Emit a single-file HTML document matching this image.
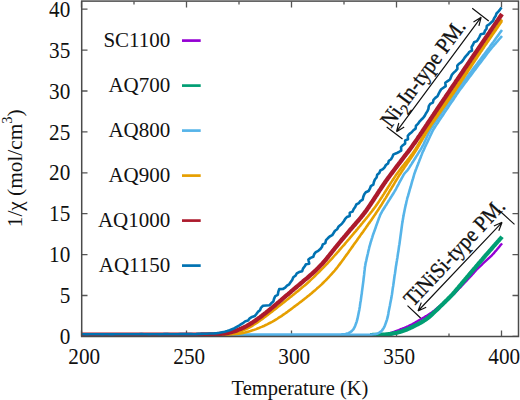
<!DOCTYPE html>
<html><head><meta charset="utf-8"><style>
html,body{margin:0;padding:0;background:#fff;width:520px;height:400px;overflow:hidden}
svg{display:block}
</style></head><body>
<svg width="520" height="400" viewBox="0 0 520 400"><rect width="520" height="400" fill="#fff"/><path d="M81.5,336.4v-6 M81.5,1.5v6 M186.5,336.4v-6 M186.5,1.5v6 M291.5,336.4v-6 M291.5,1.5v6 M396.5,336.4v-6 M396.5,1.5v6 M501.5,336.4v-6 M501.5,1.5v6 M81.5,336.4h6 M518.5,336.4h-6 M81.5,295.5h6 M518.5,295.5h-6 M81.5,254.6h6 M518.5,254.6h-6 M81.5,213.7h6 M518.5,213.7h-6 M81.5,172.8h6 M518.5,172.8h-6 M81.5,131.9h6 M518.5,131.9h-6 M81.5,91.0h6 M518.5,91.0h-6 M81.5,50.1h6 M518.5,50.1h-6 M81.5,9.2h6 M518.5,9.2h-6 M134.0,336.4v-3 M134.0,1.5v3 M239.0,336.4v-3 M239.0,1.5v3 M344.0,336.4v-3 M344.0,1.5v3 M449.0,336.4v-3 M449.0,1.5v3" stroke="#555" stroke-width="1.3" fill="none"/><path d="M374.0,335.2 L375.5,335.2 L377.0,335.1 L378.5,335.1 L380.0,335.0 L381.5,334.9 L383.0,334.7 L384.5,334.5 L385.9,334.3 L387.4,333.9 L388.8,333.6 L390.3,333.2 L391.7,332.7 L393.1,332.2 L394.5,331.7 L395.9,331.1 L397.3,330.6 L398.7,330.1 L400.1,329.5 L401.5,329.0 L402.9,328.4 L404.3,327.9 L405.7,327.3 L407.1,326.7 L408.5,326.1 L409.8,325.4 L411.1,324.7 L412.5,324.0 L413.8,323.3 L415.1,322.6 L416.4,321.8 L417.7,321.1 L419.0,320.3 L420.3,319.5 L421.6,318.8 L422.9,318.0 L424.2,317.2 L425.4,316.4 L426.7,315.7 L428.0,314.9 L429.3,314.1 L430.5,313.2 L431.8,312.4 L433.0,311.5 L434.2,310.6 L435.3,309.7 L436.5,308.7 L437.7,307.8 L438.8,306.8 L440.0,305.9 L441.2,304.9 L442.3,303.9 L443.5,303.0 L444.6,302.0 L445.8,301.1 L446.9,300.1 L448.1,299.1 L449.2,298.2 L450.4,297.2 L451.5,296.2 L452.6,295.2 L453.7,294.1 L454.7,293.1 L455.8,292.0 L456.8,290.9 L457.9,289.8 L458.9,288.7 L460.0,287.7 L461.0,286.6 L462.0,285.5 L463.1,284.4 L464.1,283.3 L465.1,282.2 L466.2,281.1 L467.2,280.0 L468.2,278.9 L469.2,277.8 L470.3,276.7 L471.3,275.6 L472.3,274.5 L473.3,273.4 L474.3,272.2 L475.3,271.1 L476.3,270.0 L477.4,268.9 L478.4,267.9 L479.5,266.8 L480.6,265.8 L481.7,264.8 L482.8,263.7 L483.9,262.7 L485.0,261.7 L486.1,260.7 L487.2,259.7 L488.3,258.7 L489.4,257.7 L490.5,256.6 L491.6,255.6 L492.6,254.5 L493.7,253.4 L494.6,252.3 L495.6,251.1 L496.6,250.0 L497.6,248.8 L498.5,247.7 L499.5,246.5 L500.4,245.3 L501.4,244.2 L502.0,243.4" fill="none" stroke="#9400D3" stroke-width="2.4" stroke-linejoin="round" stroke-linecap="butt"/><path d="M370.0,335.0 L371.5,335.0 L373.0,334.9 L374.5,334.9 L376.0,334.9 L377.5,334.8 L379.0,334.8 L380.5,334.7 L382.0,334.7 L383.5,334.6 L385.0,334.5 L386.5,334.3 L388.0,334.2 L389.5,334.0 L391.0,333.8 L392.4,333.6 L393.9,333.3 L395.4,333.0 L396.9,332.7 L398.3,332.3 L399.8,332.0 L401.2,331.6 L402.6,331.1 L404.0,330.6 L405.4,330.1 L406.8,329.5 L408.2,328.9 L409.6,328.3 L410.9,327.7 L412.3,327.0 L413.6,326.4 L415.0,325.7 L416.3,325.0 L417.6,324.3 L418.9,323.6 L420.3,322.9 L421.6,322.1 L422.9,321.4 L424.1,320.6 L425.4,319.7 L426.6,318.9 L427.8,318.0 L429.0,317.1 L430.1,316.1 L431.2,315.1 L432.4,314.1 L433.4,313.1 L434.5,312.0 L435.6,311.0 L436.7,310.0 L437.8,308.9 L438.9,307.9 L439.9,306.8 L441.0,305.8 L442.1,304.7 L443.2,303.7 L444.2,302.6 L445.3,301.6 L446.4,300.5 L447.5,299.5 L448.5,298.4 L449.6,297.4 L450.6,296.3 L451.7,295.2 L452.7,294.1 L453.7,293.0 L454.7,291.9 L455.7,290.7 L456.6,289.6 L457.6,288.4 L458.6,287.3 L459.5,286.1 L460.5,285.0 L461.5,283.8 L462.4,282.7 L463.4,281.5 L464.4,280.4 L465.3,279.2 L466.3,278.1 L467.2,276.9 L468.2,275.8 L469.2,274.6 L470.2,273.5 L471.1,272.3 L472.1,271.2 L473.1,270.0 L474.0,268.9 L475.0,267.8 L476.0,266.6 L477.0,265.5 L478.0,264.3 L478.9,263.2 L479.9,262.1 L480.9,260.9 L481.9,259.8 L482.9,258.6 L483.8,257.5 L484.8,256.4 L485.8,255.2 L486.8,254.1 L487.8,253.0 L488.8,251.8 L489.8,250.7 L490.8,249.6 L491.8,248.5 L492.7,247.3 L493.7,246.2 L494.7,245.1 L495.7,243.9 L496.7,242.8 L497.7,241.7 L498.7,240.6 L499.7,239.4 L500.7,238.3 L501.7,237.2 L502.0,236.8" fill="none" stroke="#009E73" stroke-width="4.2" stroke-linejoin="round" stroke-linecap="butt"/><path d="M81.5,334.8 L83.0,334.8 L84.5,334.8 L86.0,334.8 L87.5,334.8 L89.0,334.8 L90.5,334.8 L92.0,334.8 L93.5,334.8 L95.0,334.8 L96.5,334.8 L98.0,334.8 L99.5,334.8 L101.0,334.8 L102.5,334.8 L104.0,334.8 L105.5,334.8 L107.0,334.8 L108.5,334.8 L110.0,334.8 L111.5,334.8 L113.0,334.8 L114.5,334.8 L116.0,334.8 L117.5,334.8 L119.0,334.8 L120.5,334.8 L122.0,334.8 L123.5,334.8 L125.0,334.8 L126.5,334.8 L128.0,334.8 L129.5,334.8 L131.0,334.8 L132.5,334.8 L134.0,334.8 L135.5,334.8 L137.0,334.8 L138.5,334.8 L140.0,334.8 L141.5,334.8 L143.0,334.8 L144.5,334.8 L146.0,334.8 L147.5,334.8 L149.0,334.8 L150.5,334.8 L152.0,334.8 L153.5,334.8 L155.0,334.8 L156.5,334.8 L158.0,334.8 L159.5,334.8 L161.0,334.8 L162.5,334.8 L164.0,334.8 L165.5,334.8 L167.0,334.8 L168.5,334.8 L170.0,334.8 L171.5,334.8 L173.0,334.8 L174.6,334.8 L176.1,334.8 L177.6,334.8 L179.1,334.8 L180.6,334.8 L182.1,334.8 L183.6,334.8 L185.1,334.8 L186.6,334.8 L188.1,334.8 L189.6,334.8 L191.1,334.8 L192.6,334.8 L194.1,334.8 L195.6,334.8 L197.1,334.8 L198.6,334.8 L200.1,334.8 L201.6,334.8 L203.1,334.8 L204.6,334.8 L206.1,334.8 L207.6,334.8 L209.1,334.8 L210.6,334.8 L212.1,334.8 L213.6,334.8 L215.1,334.8 L216.6,334.8 L218.1,334.8 L219.6,334.8 L221.1,334.8 L222.6,334.8 L224.1,334.8 L225.6,334.8 L227.1,334.8 L228.6,334.8 L230.1,334.8 L231.6,334.8 L233.1,334.8 L234.6,334.8 L236.1,334.8 L237.6,334.8 L239.1,334.8 L240.6,334.8 L242.1,334.8 L243.6,334.8 L245.1,334.8 L246.6,334.8 L248.1,334.8 L249.6,334.8 L251.1,334.8 L252.6,334.8 L254.1,334.8 L255.6,334.8 L257.1,334.8 L258.6,334.8 L260.1,334.8 L261.6,334.8 L263.1,334.8 L264.6,334.8 L266.1,334.8 L267.6,334.8 L269.1,334.8 L270.6,334.8 L272.1,334.8 L273.6,334.8 L275.1,334.8 L276.6,334.8 L278.1,334.8 L279.6,334.8 L281.1,334.8 L282.6,334.8 L284.1,334.8 L285.6,334.8 L287.1,334.8 L288.6,334.8 L290.1,334.8 L291.6,334.8 L293.1,334.8 L294.6,334.8 L296.1,334.8 L297.6,334.8 L299.1,334.8 L300.6,334.8 L302.1,334.8 L303.6,334.8 L305.1,334.8 L306.6,334.8 L308.1,334.8 L309.6,334.8 L311.1,334.8 L312.6,334.8 L314.1,334.8 L315.6,334.8 L317.1,334.8 L318.6,334.8 L320.1,334.8 L321.6,334.8 L323.1,334.8 L324.6,334.8 L326.1,334.8 L327.6,334.8 L329.1,334.8 L330.6,334.8 L332.1,334.8 L333.6,334.8 L335.1,334.8 L336.6,334.8 L338.1,334.8 L339.6,334.8 L341.1,334.8 L342.6,334.8 L344.1,334.8 L345.6,334.8 L347.1,334.8 L348.6,334.8 L350.1,334.8 L351.6,334.8 L353.1,334.8 L354.6,334.8 L356.1,334.8 L357.6,334.8 L359.1,334.8 L360.7,334.8 L362.2,334.8 L363.7,334.8 L365.2,334.8 L366.7,334.8 L368.2,334.7 L369.7,334.7 L371.1,334.6 L372.6,334.5 L374.1,334.3 L375.6,334.1 L377.0,333.7 L378.4,333.1 L379.7,332.4 L380.8,331.6 L381.9,330.6 L382.8,329.4 L383.6,328.2 L384.3,326.9 L384.9,325.5 L385.4,324.1 L385.9,322.7 L386.4,321.3 L386.9,319.8 L387.3,318.4 L387.7,316.9 L388.0,315.5 L388.3,314.0 L388.5,312.5 L388.8,311.1 L389.1,309.6 L389.4,308.1 L389.7,306.6 L390.0,305.2 L390.2,303.7 L390.5,302.2 L390.8,300.7 L391.1,299.3 L391.4,297.8 L391.6,296.3 L391.9,294.8 L392.1,293.4 L392.3,291.9 L392.5,290.4 L392.7,288.9 L392.9,287.4 L393.2,285.9 L393.4,284.4 L393.6,283.0 L393.8,281.5 L394.0,280.0 L394.2,278.5 L394.4,277.0 L394.6,275.5 L394.9,274.0 L395.1,272.6 L395.3,271.1 L395.5,269.6 L395.7,268.1 L395.9,266.6 L396.2,265.1 L396.4,263.6 L396.6,262.2 L396.9,260.7 L397.1,259.2 L397.4,257.7 L397.6,256.2 L397.8,254.8 L398.0,253.3 L398.3,251.8 L398.5,250.3 L398.7,248.8 L398.9,247.3 L399.1,245.8 L399.4,244.4 L399.6,242.9 L399.8,241.4 L400.0,239.9 L400.2,238.4 L400.4,236.9 L400.6,235.4 L400.8,234.0 L401.0,232.5 L401.2,231.0 L401.4,229.5 L401.6,228.0 L401.8,226.5 L402.0,225.0 L402.2,223.6 L402.5,222.1 L402.7,220.6 L403.0,219.1 L403.2,217.6 L403.5,216.1 L403.7,214.7 L404.0,213.2 L404.3,211.7 L404.6,210.3 L404.9,208.8 L405.2,207.3 L405.5,205.9 L405.9,204.4 L406.2,202.9 L406.5,201.5 L406.9,200.0 L407.2,198.5 L407.6,197.1 L408.1,195.7 L408.5,194.2 L408.9,192.8 L409.3,191.3 L409.7,189.9 L410.1,188.5 L410.6,187.0 L411.0,185.6 L411.4,184.1 L411.8,182.7 L412.2,181.2 L412.6,179.8 L413.1,178.4 L413.5,176.9 L413.9,175.5 L414.3,174.0 L414.8,172.6 L415.3,171.2 L415.8,169.8 L416.4,168.4 L416.9,167.0 L417.5,165.6 L418.0,164.2 L418.5,162.8 L419.1,161.4 L419.6,160.0 L420.2,158.6 L420.7,157.2 L421.2,155.8 L421.8,154.4 L422.3,153.0 L422.9,151.6 L423.6,150.3 L424.2,148.9 L424.8,147.5 L425.4,146.2 L426.1,144.8 L426.7,143.5 L427.4,142.1 L428.0,140.7 L428.6,139.4 L429.3,138.0 L429.9,136.7 L430.5,135.3 L431.2,133.9 L431.8,132.6 L432.5,131.2 L433.2,129.9 L433.9,128.6 L434.8,127.4 L435.6,126.1 L436.4,124.9 L437.2,123.6 L438.1,122.4 L438.9,121.1 L439.7,119.9 L440.6,118.6 L441.4,117.4 L442.2,116.1 L443.1,114.9 L443.9,113.6 L444.7,112.4 L445.6,111.1 L446.4,109.9 L447.2,108.6 L448.1,107.4 L448.9,106.1 L449.7,104.9 L450.6,103.6 L451.4,102.4 L452.2,101.2 L453.1,99.9 L453.9,98.7 L454.7,97.4 L455.6,96.2 L456.4,94.9 L457.2,93.7 L458.1,92.4 L458.9,91.2 L459.8,90.0 L460.7,88.8 L461.6,87.6 L462.5,86.4 L463.4,85.2 L464.3,84.0 L465.2,82.8 L466.1,81.6 L467.0,80.4 L467.9,79.2 L468.8,78.0 L469.7,76.8 L470.6,75.6 L471.5,74.4 L472.4,73.2 L473.3,72.0 L474.2,70.8 L475.1,69.6 L476.0,68.4 L476.9,67.2 L477.8,66.0 L478.7,64.8 L479.6,63.6 L480.6,62.4 L481.5,61.2 L482.4,60.0 L483.3,58.8 L484.2,57.6 L485.1,56.4 L486.0,55.2 L486.9,54.0 L487.8,52.8 L488.7,51.6 L489.6,50.4 L490.6,49.3 L491.5,48.1 L492.5,47.0 L493.5,45.9 L494.5,44.7 L495.5,43.6 L496.4,42.4 L497.4,41.3 L498.4,40.2 L499.4,39.0 L500.4,37.9 L501.3,36.8 L502.0,36.0" fill="none" stroke="#56B4E9" stroke-width="2.6" stroke-linejoin="round" stroke-linecap="butt"/><path d="M81.5,334.8 L83.0,334.8 L84.5,334.8 L86.0,334.8 L87.5,334.8 L89.0,334.8 L90.5,334.8 L92.0,334.8 L93.5,334.8 L95.0,334.8 L96.5,334.8 L98.0,334.8 L99.5,334.8 L101.0,334.8 L102.5,334.8 L104.0,334.8 L105.5,334.8 L107.0,334.8 L108.5,334.8 L110.0,334.8 L111.5,334.8 L113.0,334.8 L114.5,334.8 L116.0,334.8 L117.5,334.8 L119.0,334.8 L120.5,334.8 L122.0,334.8 L123.5,334.8 L125.0,334.8 L126.5,334.8 L128.0,334.8 L129.5,334.8 L131.0,334.8 L132.5,334.8 L134.0,334.8 L135.5,334.8 L137.0,334.8 L138.5,334.8 L140.0,334.8 L141.5,334.8 L143.0,334.8 L144.5,334.8 L146.0,334.8 L147.5,334.8 L149.0,334.8 L150.5,334.8 L152.0,334.8 L153.5,334.8 L155.0,334.8 L156.5,334.8 L158.0,334.8 L159.5,334.8 L161.0,334.8 L162.5,334.8 L164.0,334.8 L165.6,334.8 L167.1,334.8 L168.6,334.8 L170.1,334.8 L171.6,334.8 L173.1,334.8 L174.6,334.8 L176.1,334.8 L177.6,334.8 L179.1,334.8 L180.6,334.8 L182.1,334.8 L183.6,334.8 L185.1,334.8 L186.6,334.8 L188.1,334.8 L189.6,334.8 L191.1,334.8 L192.6,334.8 L194.1,334.8 L195.6,334.8 L197.1,334.8 L198.6,334.8 L200.1,334.8 L201.6,334.8 L203.1,334.8 L204.6,334.8 L206.1,334.8 L207.6,334.8 L209.1,334.8 L210.6,334.8 L212.1,334.8 L213.6,334.8 L215.1,334.8 L216.6,334.8 L218.1,334.8 L219.6,334.8 L221.1,334.8 L222.6,334.8 L224.1,334.8 L225.6,334.8 L227.1,334.8 L228.6,334.8 L230.1,334.8 L231.6,334.8 L233.1,334.8 L234.6,334.8 L236.1,334.8 L237.6,334.8 L239.1,334.8 L240.6,334.8 L242.1,334.8 L243.6,334.8 L245.1,334.8 L246.6,334.8 L248.1,334.8 L249.6,334.8 L251.1,334.8 L252.6,334.8 L254.1,334.8 L255.6,334.8 L257.1,334.8 L258.6,334.8 L260.1,334.8 L261.6,334.8 L263.1,334.8 L264.6,334.8 L266.1,334.8 L267.6,334.8 L269.1,334.8 L270.6,334.8 L272.1,334.8 L273.6,334.8 L275.1,334.8 L276.6,334.8 L278.1,334.8 L279.6,334.8 L281.1,334.8 L282.6,334.8 L284.1,334.8 L285.6,334.8 L287.1,334.8 L288.6,334.8 L290.1,334.8 L291.6,334.8 L293.1,334.8 L294.6,334.8 L296.1,334.8 L297.6,334.8 L299.1,334.8 L300.6,334.8 L302.1,334.8 L303.6,334.8 L305.1,334.8 L306.6,334.8 L308.1,334.8 L309.6,334.8 L311.1,334.8 L312.6,334.8 L314.1,334.8 L315.6,334.8 L317.1,334.8 L318.6,334.8 L320.1,334.8 L321.6,334.8 L323.1,334.8 L324.6,334.8 L326.1,334.8 L327.6,334.8 L329.1,334.8 L330.6,334.8 L332.2,334.8 L333.7,334.8 L335.2,334.8 L336.7,334.8 L338.2,334.7 L339.7,334.7 L341.1,334.6 L342.6,334.4 L344.1,334.3 L345.6,334.0 L347.0,333.6 L348.4,333.2 L349.8,332.5 L351.0,331.7 L352.1,330.7 L353.1,329.7 L353.9,328.5 L354.6,327.2 L355.2,325.8 L355.7,324.4 L356.2,323.0 L356.7,321.6 L357.1,320.1 L357.5,318.7 L357.8,317.2 L358.1,315.7 L358.4,314.3 L358.7,312.8 L359.0,311.3 L359.3,309.9 L359.5,308.4 L359.8,306.9 L360.0,305.4 L360.2,303.9 L360.4,302.4 L360.7,301.0 L360.9,299.5 L361.1,298.0 L361.3,296.5 L361.5,295.0 L361.8,293.5 L361.9,292.0 L362.1,290.6 L362.3,289.1 L362.5,287.6 L362.7,286.1 L362.9,284.6 L363.1,283.1 L363.3,281.6 L363.5,280.1 L363.6,278.6 L363.8,277.2 L364.0,275.7 L364.2,274.2 L364.3,272.7 L364.5,271.2 L364.7,269.7 L364.8,268.2 L365.0,266.7 L365.3,265.2 L365.5,263.8 L365.8,262.3 L366.2,260.8 L366.5,259.4 L366.8,257.9 L367.2,256.4 L367.5,255.0 L367.9,253.5 L368.2,252.1 L368.5,250.6 L368.9,249.1 L369.2,247.7 L369.6,246.2 L370.0,244.8 L370.4,243.3 L370.8,241.9 L371.3,240.5 L371.7,239.0 L372.2,237.6 L372.6,236.2 L373.1,234.7 L373.6,233.3 L374.1,231.9 L374.6,230.5 L375.1,229.1 L375.6,227.7 L376.1,226.2 L376.6,224.8 L377.1,223.4 L377.6,222.0 L378.1,220.6 L378.6,219.2 L379.1,217.8 L379.7,216.4 L380.2,215.0 L380.9,213.6 L381.6,212.3 L382.3,211.0 L383.1,209.8 L383.9,208.5 L384.7,207.2 L385.5,205.9 L386.3,204.7 L387.1,203.4 L387.9,202.1 L388.7,200.8 L389.5,199.6 L390.3,198.3 L391.1,197.0 L391.9,195.8 L392.7,194.5 L393.5,193.2 L394.3,191.9 L395.0,190.7 L395.8,189.4 L396.5,188.0 L397.2,186.7 L397.9,185.4 L398.6,184.1 L399.3,182.7 L400.0,181.4 L400.7,180.1 L401.4,178.8 L402.2,177.4 L402.9,176.1 L403.6,174.8 L404.4,173.6 L405.4,172.5 L406.4,171.4 L407.4,170.3 L408.3,169.1 L409.1,167.9 L409.9,166.6 L410.7,165.3 L411.5,164.1 L412.3,162.8 L413.1,161.5 L413.9,160.3 L414.7,159.0 L415.5,157.7 L416.3,156.4 L417.1,155.2 L417.9,153.9 L418.7,152.6 L419.5,151.3 L420.3,150.1 L421.1,148.8 L421.8,147.5 L422.5,146.2 L423.2,144.9 L423.9,143.5 L424.5,142.1 L425.1,140.8 L425.7,139.4 L426.3,138.0 L427.0,136.7 L427.6,135.3 L428.2,133.9 L428.8,132.6 L429.5,131.2 L430.2,129.9 L431.0,128.6 L431.8,127.4 L432.6,126.1 L433.5,124.9 L434.3,123.6 L435.2,122.4 L436.0,121.2 L436.9,119.9 L437.7,118.7 L438.5,117.4 L439.4,116.2 L440.2,115.0 L441.1,113.7 L441.9,112.5 L442.8,111.2 L443.6,110.0 L444.4,108.7 L445.3,107.5 L446.1,106.3 L447.0,105.0 L447.8,103.8 L448.7,102.5 L449.5,101.3 L450.3,100.1 L451.2,98.8 L452.0,97.6 L452.9,96.3 L453.7,95.1 L454.6,93.8 L455.4,92.6 L456.3,91.4 L457.2,90.2 L458.0,89.0 L458.9,87.8 L459.9,86.6 L460.8,85.4 L461.7,84.2 L462.6,83.0 L463.5,81.8 L464.4,80.6 L465.3,79.4 L466.2,78.2 L467.1,77.0 L468.0,75.8 L468.9,74.6 L469.8,73.4 L470.7,72.2 L471.6,71.0 L472.5,69.8 L473.4,68.6 L474.3,67.4 L475.2,66.2 L476.1,65.0 L477.1,63.8 L478.0,62.6 L478.9,61.4 L479.8,60.2 L480.7,59.0 L481.6,57.8 L482.5,56.6 L483.4,55.4 L484.3,54.2 L485.2,53.0 L486.1,51.8 L487.0,50.6 L487.9,49.4 L488.8,48.2 L489.7,47.0 L490.5,45.8 L491.4,44.6 L492.3,43.4 L493.2,42.2 L494.1,40.9 L495.0,39.7 L495.8,38.5 L496.7,37.3 L497.6,36.1 L498.5,34.9 L499.4,33.6 L500.2,32.4 L501.1,31.2 L502.0,30.0 L502.0,30.0" fill="none" stroke="#56B4E9" stroke-width="2.6" stroke-linejoin="round" stroke-linecap="butt"/><path d="M81.5,334.9 L83.0,334.9 L84.5,334.9 L86.0,334.9 L87.5,334.9 L89.0,334.9 L90.5,334.9 L92.0,334.9 L93.5,334.9 L95.0,334.9 L96.5,334.9 L98.0,334.9 L99.5,334.9 L101.0,334.9 L102.5,334.9 L104.0,334.9 L105.5,334.9 L107.0,334.9 L108.5,334.9 L110.0,334.9 L111.5,334.9 L113.0,334.9 L114.5,334.9 L116.0,334.9 L117.5,334.9 L119.0,334.9 L120.5,334.9 L122.0,334.9 L123.5,334.9 L125.0,334.9 L126.5,334.9 L128.0,334.9 L129.5,334.9 L131.0,334.9 L132.5,334.9 L134.0,334.9 L135.5,334.9 L137.0,334.9 L138.5,334.9 L140.0,334.9 L141.5,334.9 L143.0,334.9 L144.5,334.9 L146.0,334.9 L147.5,334.9 L149.0,334.9 L150.5,334.9 L152.0,334.9 L153.5,334.9 L155.0,334.9 L156.5,334.9 L158.0,334.9 L159.5,334.9 L161.0,334.9 L162.5,334.9 L164.0,334.9 L165.5,334.9 L167.0,334.9 L168.5,334.9 L170.0,334.9 L171.5,334.9 L173.0,334.9 L174.5,334.9 L176.0,334.9 L177.5,334.9 L179.0,334.9 L180.5,334.9 L182.0,334.9 L183.5,334.9 L185.0,334.9 L186.5,334.9 L188.0,334.9 L189.5,334.9 L191.0,334.9 L192.5,334.9 L194.0,334.9 L195.5,334.9 L197.0,334.9 L198.5,334.9 L200.0,334.9 L201.5,334.9 L203.0,334.9 L204.5,334.9 L206.0,334.9 L207.5,334.9 L209.0,334.9 L210.5,334.9 L212.0,334.9 L213.5,334.9 L215.0,334.8 L216.5,334.8 L218.0,334.8 L219.5,334.8 L221.0,334.8 L222.5,334.7 L224.0,334.7 L225.5,334.7 L227.0,334.6 L228.5,334.6 L230.0,334.5 L231.5,334.4 L233.0,334.3 L234.5,334.2 L236.0,334.0 L237.5,333.9 L238.9,333.7 L240.4,333.4 L241.9,333.2 L243.3,332.9 L244.8,332.6 L246.2,332.2 L247.7,331.8 L249.1,331.4 L250.5,331.0 L251.9,330.5 L253.4,330.1 L254.8,329.6 L256.2,329.1 L257.6,328.5 L259.0,328.0 L260.3,327.4 L261.7,326.9 L263.1,326.3 L264.5,325.7 L265.8,325.0 L267.2,324.4 L268.5,323.7 L269.8,323.0 L271.1,322.3 L272.5,321.6 L273.8,320.9 L275.0,320.1 L276.3,319.3 L277.6,318.5 L278.8,317.7 L280.1,316.9 L281.4,316.1 L282.6,315.2 L283.8,314.4 L285.1,313.5 L286.3,312.6 L287.5,311.8 L288.7,310.9 L289.9,310.0 L291.1,309.1 L292.3,308.2 L293.5,307.3 L294.7,306.4 L295.9,305.5 L297.1,304.6 L298.3,303.7 L299.5,302.8 L300.7,301.9 L301.9,301.0 L303.1,300.0 L304.3,299.1 L305.4,298.2 L306.6,297.3 L307.8,296.3 L308.9,295.4 L310.1,294.4 L311.3,293.5 L312.4,292.5 L313.5,291.5 L314.7,290.6 L315.8,289.6 L316.9,288.6 L318.1,287.6 L319.2,286.6 L320.3,285.6 L321.4,284.6 L322.5,283.5 L323.5,282.5 L324.6,281.4 L325.7,280.4 L326.7,279.3 L327.8,278.2 L328.8,277.1 L329.8,276.0 L330.8,274.9 L331.8,273.8 L332.8,272.7 L333.8,271.6 L334.8,270.5 L335.7,269.3 L336.7,268.1 L337.6,267.0 L338.5,265.8 L339.4,264.6 L340.3,263.4 L341.2,262.2 L342.1,261.0 L343.0,259.8 L343.9,258.6 L344.8,257.3 L345.6,256.1 L346.5,254.9 L347.4,253.7 L348.3,252.5 L349.1,251.2 L350.0,250.0 L350.9,248.8 L351.7,247.6 L352.6,246.4 L353.5,245.1 L354.3,243.9 L355.2,242.7 L356.1,241.5 L357.0,240.3 L357.8,239.0 L358.7,237.8 L359.6,236.6 L360.4,235.4 L361.3,234.1 L362.2,232.9 L363.1,231.7 L363.9,230.5 L364.8,229.2 L365.7,228.0 L366.5,226.8 L367.4,225.6 L368.2,224.3 L369.1,223.1 L370.0,221.9 L370.8,220.7 L371.7,219.4 L372.5,218.2 L373.4,216.9 L374.2,215.7 L375.1,214.5 L375.9,213.2 L376.7,212.0 L377.6,210.7 L378.4,209.5 L379.2,208.2 L380.0,207.0 L380.8,205.7 L381.7,204.4 L382.4,203.2 L383.2,201.9 L384.0,200.6 L384.8,199.3 L385.6,198.1 L386.4,196.8 L387.1,195.5 L387.9,194.2 L388.7,192.9 L389.4,191.6 L390.2,190.3 L391.0,189.0 L391.7,187.8 L392.5,186.5 L393.3,185.2 L394.1,183.9 L394.8,182.6 L395.6,181.3 L396.4,180.0 L397.2,178.8 L397.9,177.5 L398.7,176.2 L399.5,174.9 L400.4,173.7 L401.2,172.4 L402.0,171.2 L402.8,169.9 L403.7,168.7 L404.5,167.4 L405.3,166.2 L406.2,165.0 L407.0,163.7 L407.9,162.5 L408.8,161.3 L409.6,160.0 L410.5,158.8 L411.3,157.6 L412.1,156.3 L413.0,155.1 L413.8,153.8 L414.6,152.6 L415.4,151.3 L416.2,150.0 L417.0,148.7 L417.8,147.5 L418.5,146.2 L419.3,144.9 L420.0,143.6 L420.8,142.3 L421.5,141.0 L422.3,139.7 L423.0,138.4 L423.8,137.1 L424.5,135.8 L425.3,134.5 L426.0,133.2 L426.8,131.9 L427.6,130.7 L428.4,129.4 L429.2,128.1 L430.1,126.9 L430.9,125.6 L431.7,124.4 L432.6,123.1 L433.4,121.9 L434.3,120.7 L435.1,119.4 L436.0,118.2 L436.8,117.0 L437.7,115.7 L438.5,114.5 L439.4,113.3 L440.3,112.1 L441.1,110.8 L442.0,109.6 L442.8,108.4 L443.7,107.1 L444.6,105.9 L445.4,104.7 L446.3,103.5 L447.1,102.2 L448.0,101.0 L448.9,99.8 L449.7,98.5 L450.6,97.3 L451.4,96.1 L452.3,94.8 L453.1,93.6 L454.0,92.4 L454.8,91.1 L455.7,89.9 L456.5,88.6 L457.3,87.4 L458.2,86.1 L459.0,84.9 L459.8,83.6 L460.7,82.4 L461.5,81.1 L462.3,79.9 L463.1,78.6 L464.0,77.4 L464.8,76.1 L465.6,74.9 L466.4,73.6 L467.3,72.4 L468.1,71.1 L468.9,69.9 L469.7,68.6 L470.6,67.4 L471.4,66.1 L472.2,64.9 L473.0,63.6 L473.9,62.3 L474.7,61.1 L475.5,59.8 L476.4,58.6 L477.2,57.3 L478.0,56.1 L478.8,54.8 L479.7,53.6 L480.5,52.3 L481.3,51.1 L482.2,49.9 L483.0,48.6 L483.9,47.4 L484.7,46.1 L485.5,44.9 L486.4,43.7 L487.2,42.4 L488.1,41.2 L488.9,39.9 L489.8,38.7 L490.6,37.5 L491.5,36.2 L492.3,35.0 L493.2,33.8 L494.1,32.5 L494.9,31.3 L495.8,30.1 L496.6,28.8 L497.5,27.6 L498.3,26.4 L499.2,25.1 L500.0,23.9 L500.9,22.6 L501.7,21.4 L502.0,21.0" fill="none" stroke="#E69F00" stroke-width="2.6" stroke-linejoin="round" stroke-linecap="butt"/><path d="M81.5,334.8 L83.0,334.8 L84.5,334.8 L86.0,334.8 L87.5,334.8 L89.0,334.8 L90.5,334.8 L92.0,334.8 L93.5,334.8 L95.0,334.8 L96.5,334.8 L98.0,334.8 L99.5,334.8 L101.0,334.8 L102.5,334.8 L104.0,334.8 L105.5,334.8 L107.0,334.8 L108.5,334.8 L110.0,334.8 L111.5,334.8 L113.0,334.8 L114.5,334.8 L116.0,334.8 L117.5,334.8 L119.0,334.8 L120.5,334.8 L122.0,334.8 L123.5,334.8 L125.0,334.8 L126.5,334.8 L128.0,334.8 L129.5,334.8 L131.0,334.8 L132.5,334.8 L134.0,334.8 L135.5,334.8 L137.0,334.8 L138.5,334.8 L140.0,334.8 L141.5,334.8 L143.0,334.8 L144.5,334.8 L146.0,334.8 L147.5,334.8 L149.0,334.8 L150.5,334.8 L152.0,334.8 L153.5,334.8 L155.0,334.8 L156.5,334.8 L158.0,334.8 L159.5,334.8 L161.0,334.8 L162.5,334.8 L164.0,334.8 L165.5,334.8 L167.0,334.8 L168.5,334.8 L170.0,334.8 L171.5,334.8 L173.0,334.8 L174.5,334.8 L176.0,334.8 L177.5,334.8 L179.0,334.8 L180.5,334.8 L182.0,334.8 L183.5,334.8 L185.0,334.8 L186.5,334.8 L188.0,334.8 L189.5,334.8 L191.0,334.8 L192.5,334.8 L194.0,334.8 L195.5,334.8 L197.0,334.8 L198.5,334.8 L200.0,334.8 L201.5,334.8 L203.0,334.8 L204.5,334.8 L206.0,334.7 L207.5,334.7 L209.0,334.7 L210.5,334.7 L212.0,334.7 L213.5,334.7 L215.0,334.6 L216.5,334.6 L218.0,334.6 L219.5,334.5 L221.0,334.5 L222.5,334.4 L224.0,334.3 L225.5,334.2 L227.0,334.1 L228.5,333.9 L230.0,333.7 L231.4,333.5 L232.9,333.3 L234.4,333.0 L235.8,332.7 L237.2,332.3 L238.7,331.9 L240.1,331.5 L241.5,331.0 L242.9,330.5 L244.2,329.9 L245.6,329.3 L246.9,328.7 L248.3,328.0 L249.6,327.3 L250.9,326.6 L252.2,325.8 L253.4,325.0 L254.7,324.2 L255.9,323.4 L257.2,322.6 L258.4,321.7 L259.6,320.9 L260.8,320.0 L262.1,319.1 L263.3,318.2 L264.5,317.3 L265.7,316.4 L266.9,315.5 L268.1,314.6 L269.2,313.7 L270.4,312.8 L271.6,311.9 L272.8,310.9 L274.0,310.0 L275.2,309.1 L276.4,308.2 L277.5,307.3 L278.7,306.3 L279.9,305.4 L281.1,304.5 L282.3,303.5 L283.4,302.6 L284.6,301.7 L285.8,300.7 L287.0,299.8 L288.1,298.9 L289.3,297.9 L290.5,297.0 L291.7,296.1 L292.8,295.1 L294.0,294.2 L295.2,293.3 L296.3,292.3 L297.5,291.4 L298.7,290.4 L299.8,289.5 L301.0,288.5 L302.1,287.6 L303.3,286.6 L304.4,285.6 L305.6,284.7 L306.7,283.7 L307.8,282.7 L308.9,281.7 L310.0,280.7 L311.1,279.6 L312.2,278.6 L313.3,277.6 L314.4,276.5 L315.5,275.5 L316.5,274.4 L317.6,273.4 L318.7,272.3 L319.7,271.3 L320.8,270.2 L321.8,269.1 L322.9,268.1 L323.9,267.0 L325.0,265.9 L326.0,264.8 L327.1,263.8 L328.1,262.7 L329.1,261.6 L330.1,260.5 L331.2,259.4 L332.2,258.3 L333.2,257.2 L334.2,256.0 L335.2,254.9 L336.2,253.8 L337.2,252.7 L338.2,251.6 L339.2,250.4 L340.1,249.3 L341.1,248.2 L342.1,247.0 L343.1,245.9 L344.1,244.8 L345.1,243.6 L346.0,242.5 L347.0,241.4 L348.0,240.2 L349.0,239.1 L350.0,237.9 L350.9,236.8 L351.9,235.7 L352.9,234.5 L353.8,233.4 L354.8,232.2 L355.8,231.1 L356.7,229.9 L357.7,228.8 L358.6,227.6 L359.6,226.5 L360.6,225.3 L361.5,224.1 L362.5,223.0 L363.4,221.8 L364.4,220.7 L365.3,219.5 L366.3,218.3 L367.2,217.2 L368.2,216.0 L369.1,214.8 L370.0,213.7 L370.9,212.5 L371.9,211.3 L372.8,210.1 L373.7,208.9 L374.6,207.7 L375.5,206.5 L376.3,205.3 L377.2,204.1 L378.1,202.8 L378.9,201.6 L379.7,200.4 L380.6,199.1 L381.4,197.8 L382.2,196.6 L383.0,195.3 L383.8,194.1 L384.6,192.8 L385.4,191.5 L386.2,190.2 L387.0,189.0 L387.8,187.7 L388.6,186.4 L389.4,185.2 L390.2,183.9 L391.0,182.6 L391.8,181.4 L392.6,180.1 L393.5,178.9 L394.3,177.6 L395.1,176.4 L396.0,175.1 L396.8,173.9 L397.7,172.7 L398.6,171.5 L399.5,170.3 L400.4,169.1 L401.3,167.9 L402.2,166.7 L403.2,165.5 L404.1,164.4 L405.0,163.2 L406.0,162.0 L406.9,160.9 L407.8,159.7 L408.8,158.5 L409.7,157.3 L410.6,156.1 L411.5,154.9 L412.4,153.7 L413.2,152.5 L414.1,151.3 L414.9,150.0 L415.7,148.8 L416.5,147.5 L417.3,146.2 L418.0,145.0 L418.8,143.7 L419.5,142.4 L420.3,141.1 L421.0,139.7 L421.7,138.4 L422.5,137.1 L423.2,135.8 L423.9,134.5 L424.7,133.2 L425.5,131.9 L426.2,130.7 L427.0,129.4 L427.8,128.1 L428.6,126.8 L429.4,125.6 L430.2,124.3 L431.1,123.1 L431.9,121.8 L432.7,120.6 L433.6,119.4 L434.4,118.1 L435.3,116.9 L436.1,115.6 L437.0,114.4 L437.8,113.2 L438.7,111.9 L439.6,110.7 L440.4,109.5 L441.3,108.2 L442.1,107.0 L443.0,105.8 L443.8,104.5 L444.7,103.3 L445.5,102.1 L446.4,100.8 L447.2,99.6 L448.1,98.4 L448.9,97.1 L449.8,95.9 L450.6,94.7 L451.5,93.4 L452.3,92.2 L453.2,91.0 L454.0,89.7 L454.9,88.5 L455.7,87.2 L456.6,86.0 L457.4,84.8 L458.3,83.5 L459.1,82.3 L460.0,81.0 L460.8,79.8 L461.6,78.5 L462.5,77.3 L463.3,76.1 L464.2,74.8 L465.0,73.6 L465.9,72.3 L466.7,71.1 L467.5,69.9 L468.4,68.6 L469.2,67.4 L470.1,66.1 L470.9,64.9 L471.7,63.6 L472.6,62.4 L473.4,61.2 L474.3,59.9 L475.1,58.7 L476.0,57.4 L476.8,56.2 L477.6,55.0 L478.5,53.7 L479.3,52.5 L480.2,51.2 L481.0,50.0 L481.9,48.8 L482.7,47.5 L483.6,46.3 L484.4,45.0 L485.3,43.8 L486.1,42.6 L487.0,41.3 L487.8,40.1 L488.7,38.9 L489.5,37.6 L490.4,36.4 L491.2,35.2 L492.1,33.9 L492.9,32.7 L493.8,31.4 L494.6,30.2 L495.5,29.0 L496.3,27.7 L497.2,26.5 L498.0,25.3 L498.9,24.0 L499.7,22.8 L500.6,21.6 L501.4,20.3 L502.0,19.5" fill="none" stroke="#E69F00" stroke-width="2.6" stroke-linejoin="round" stroke-linecap="butt"/><path d="M81.5,334.6 L83.0,334.6 L84.5,334.6 L86.0,334.6 L87.5,334.6 L89.0,334.6 L90.5,334.6 L92.0,334.6 L93.5,334.6 L95.0,334.6 L96.5,334.6 L98.0,334.6 L99.5,334.6 L101.0,334.6 L102.5,334.6 L104.0,334.6 L105.5,334.6 L107.0,334.6 L108.5,334.6 L110.0,334.6 L111.5,334.6 L113.0,334.6 L114.5,334.6 L116.0,334.6 L117.5,334.6 L119.0,334.6 L120.5,334.6 L122.0,334.6 L123.5,334.6 L125.0,334.6 L126.5,334.6 L128.0,334.6 L129.5,334.6 L131.0,334.6 L132.5,334.6 L134.0,334.6 L135.5,334.6 L137.0,334.6 L138.5,334.6 L140.0,334.6 L141.5,334.6 L143.0,334.6 L144.5,334.6 L146.0,334.6 L147.5,334.6 L149.0,334.6 L150.5,334.6 L152.0,334.6 L153.5,334.6 L155.0,334.6 L156.5,334.6 L158.0,334.6 L159.5,334.6 L161.0,334.6 L162.5,334.6 L164.0,334.6 L165.5,334.6 L167.0,334.6 L168.5,334.6 L170.0,334.6 L171.5,334.6 L173.0,334.6 L174.5,334.6 L176.0,334.6 L177.5,334.6 L179.0,334.6 L180.5,334.6 L182.0,334.6 L183.5,334.6 L185.0,334.6 L186.5,334.6 L188.0,334.6 L189.5,334.6 L191.0,334.6 L192.5,334.6 L194.0,334.6 L195.5,334.6 L197.0,334.6 L198.5,334.6 L200.0,334.6 L201.5,334.5 L203.0,334.5 L204.5,334.5 L206.0,334.5 L207.5,334.5 L209.0,334.4 L210.5,334.4 L212.0,334.4 L213.5,334.3 L215.0,334.3 L216.5,334.2 L218.0,334.1 L219.5,334.0 L221.0,333.9 L222.5,333.7 L223.9,333.6 L225.4,333.3 L226.9,333.1 L228.3,332.8 L229.8,332.5 L231.2,332.2 L232.6,331.8 L234.0,331.3 L235.5,330.9 L236.8,330.4 L238.2,329.8 L239.6,329.3 L241.0,328.7 L242.3,328.1 L243.7,327.5 L245.0,326.8 L246.4,326.1 L247.7,325.4 L249.0,324.7 L250.2,323.9 L251.5,323.1 L252.8,322.3 L254.0,321.5 L255.3,320.7 L256.5,319.8 L257.7,318.9 L258.9,318.0 L260.1,317.2 L261.3,316.3 L262.5,315.3 L263.7,314.4 L264.9,313.5 L266.1,312.6 L267.2,311.6 L268.4,310.7 L269.6,309.8 L270.7,308.8 L271.9,307.9 L273.1,306.9 L274.2,306.0 L275.4,305.0 L276.5,304.0 L277.6,303.0 L278.8,302.1 L279.9,301.1 L281.1,300.1 L282.2,299.1 L283.3,298.2 L284.5,297.2 L285.6,296.2 L286.8,295.2 L287.9,294.3 L289.0,293.3 L290.2,292.3 L291.3,291.3 L292.5,290.4 L293.6,289.4 L294.8,288.4 L295.9,287.5 L297.1,286.5 L298.2,285.5 L299.4,284.6 L300.5,283.6 L301.6,282.6 L302.8,281.7 L303.9,280.7 L305.1,279.7 L306.2,278.8 L307.4,277.8 L308.5,276.8 L309.6,275.8 L310.7,274.8 L311.9,273.8 L313.0,272.8 L314.1,271.8 L315.2,270.8 L316.3,269.8 L317.4,268.7 L318.4,267.7 L319.5,266.6 L320.5,265.5 L321.5,264.5 L322.6,263.4 L323.5,262.2 L324.5,261.1 L325.5,260.0 L326.5,258.8 L327.4,257.7 L328.4,256.5 L329.3,255.3 L330.2,254.2 L331.2,253.0 L332.1,251.8 L333.0,250.6 L334.0,249.5 L334.9,248.3 L335.8,247.1 L336.8,246.0 L337.7,244.8 L338.7,243.6 L339.6,242.5 L340.6,241.3 L341.5,240.2 L342.5,239.0 L343.5,237.9 L344.4,236.7 L345.4,235.6 L346.4,234.4 L347.3,233.3 L348.3,232.1 L349.3,231.0 L350.2,229.8 L351.2,228.7 L352.2,227.6 L353.2,226.4 L354.2,225.3 L355.2,224.2 L356.1,223.0 L357.1,221.9 L358.1,220.8 L359.1,219.6 L360.0,218.5 L361.0,217.3 L361.9,216.2 L362.9,215.0 L363.8,213.8 L364.7,212.6 L365.6,211.4 L366.5,210.2 L367.3,209.0 L368.2,207.8 L369.0,206.5 L369.9,205.3 L370.7,204.0 L371.5,202.8 L372.4,201.5 L373.2,200.3 L374.0,199.0 L374.8,197.8 L375.6,196.5 L376.5,195.3 L377.3,194.0 L378.1,192.7 L378.9,191.5 L379.7,190.2 L380.6,189.0 L381.4,187.7 L382.2,186.5 L383.1,185.2 L383.9,184.0 L384.8,182.8 L385.6,181.5 L386.5,180.3 L387.4,179.1 L388.2,177.9 L389.1,176.7 L390.0,175.5 L390.9,174.3 L391.8,173.1 L392.7,171.9 L393.6,170.7 L394.5,169.5 L395.4,168.3 L396.3,167.1 L397.2,165.9 L398.1,164.7 L399.0,163.5 L400.0,162.3 L400.9,161.1 L401.8,159.9 L402.7,158.7 L403.6,157.5 L404.5,156.3 L405.4,155.1 L406.3,154.0 L407.2,152.8 L408.2,151.6 L409.1,150.4 L410.0,149.2 L410.9,148.0 L411.8,146.8 L412.6,145.6 L413.5,144.3 L414.4,143.1 L415.3,141.9 L416.1,140.7 L417.0,139.4 L417.8,138.2 L418.6,136.9 L419.5,135.7 L420.3,134.5 L421.1,133.2 L422.0,132.0 L422.8,130.7 L423.6,129.5 L424.5,128.2 L425.3,127.0 L426.1,125.7 L427.0,124.5 L427.8,123.2 L428.6,122.0 L429.5,120.7 L430.3,119.5 L431.1,118.2 L432.0,117.0 L432.8,115.7 L433.7,114.5 L434.5,113.3 L435.3,112.0 L436.2,110.8 L437.0,109.5 L437.8,108.3 L438.7,107.0 L439.5,105.8 L440.4,104.5 L441.2,103.3 L442.0,102.1 L442.9,100.8 L443.7,99.6 L444.6,98.3 L445.4,97.1 L446.2,95.8 L447.1,94.6 L447.9,93.4 L448.8,92.1 L449.6,90.9 L450.4,89.6 L451.3,88.4 L452.1,87.1 L453.0,85.9 L453.8,84.7 L454.7,83.4 L455.5,82.2 L456.3,80.9 L457.2,79.7 L458.0,78.5 L458.9,77.2 L459.7,76.0 L460.6,74.7 L461.4,73.5 L462.3,72.3 L463.1,71.0 L463.9,69.8 L464.8,68.5 L465.6,67.3 L466.5,66.1 L467.3,64.8 L468.2,63.6 L469.0,62.3 L469.9,61.1 L470.7,59.8 L471.5,58.6 L472.4,57.4 L473.2,56.1 L474.1,54.9 L474.9,53.6 L475.8,52.4 L476.6,51.2 L477.5,49.9 L478.3,48.7 L479.1,47.5 L480.0,46.2 L480.8,45.0 L481.7,43.7 L482.5,42.5 L483.4,41.3 L484.2,40.0 L485.1,38.8 L485.9,37.5 L486.8,36.3 L487.6,35.1 L488.5,33.8 L489.3,32.6 L490.1,31.3 L491.0,30.1 L491.8,28.9 L492.7,27.6 L493.5,26.4 L494.4,25.1 L495.2,23.9 L496.1,22.7 L496.9,21.4 L497.8,20.2 L498.6,19.0 L499.5,17.7 L500.3,16.5 L501.2,15.2 L502.0,14.0 L502.0,14.0" fill="none" stroke="#AC1A2C" stroke-width="4.3" stroke-linejoin="round" stroke-linecap="butt"/><path d="M81.5,334.3 L84.1,334.3 L86.7,334.4 L89.3,334.2 L91.9,334.3 L94.5,334.2 L97.1,334.3 L99.7,334.3 L102.3,334.4 L105.0,334.3 L107.6,334.3 L110.2,334.4 L112.8,334.4 L115.4,334.3 L118.0,334.3 L120.6,334.3 L123.2,334.3 L125.8,334.3 L128.4,334.2 L131.0,334.3 L133.6,334.2 L136.2,334.2 L138.8,334.2 L141.4,334.1 L144.0,334.2 L146.6,334.3 L149.2,334.4 L151.9,334.3 L154.5,334.2 L157.1,334.3 L159.7,334.4 L162.3,334.3 L164.9,334.1 L167.5,334.0 L170.1,334.2 L172.7,334.3 L175.3,334.2 L177.9,334.2 L180.5,334.1 L183.1,334.1 L185.7,334.1 L188.3,334.1 L190.9,334.0 L193.5,334.2 L196.1,334.1 L198.8,333.9 L201.4,333.9 L204.0,333.8 L206.6,333.8 L209.2,333.5 L211.8,333.5 L214.4,333.4 L217.0,333.1 L219.6,332.7 L222.1,332.2 L224.7,331.8 L227.2,331.1 L229.7,330.3 L232.1,329.2 L234.5,328.2 L236.7,326.9 L239.0,325.6 L241.2,324.2 L243.4,322.8 L245.4,321.2 L248.1,320.6 L249.7,318.3 L252.0,316.9 L254.7,316.1 L256.4,314.0 L257.9,311.9 L260.0,310.3 L261.1,307.6 L263.0,305.8 L266.2,305.5 L269.4,305.3 L271.2,303.3 L273.3,301.6 L274.1,298.6 L275.3,296.1 L277.8,294.9 L278.3,291.8 L279.2,289.1 L282.9,289.0 L285.2,287.7 L287.0,285.7 L289.2,284.3 L290.7,282.1 L292.2,279.9 L293.3,277.3 L295.4,275.8 L296.8,273.4 L299.1,272.1 L302.1,271.3 L303.0,268.6 L304.6,266.5 L306.0,264.2 L309.2,263.6 L308.4,259.5 L310.6,257.9 L313.3,256.8 L314.2,254.1 L315.8,252.1 L318.3,250.8 L320.3,249.1 L321.9,247.0 L322.8,244.4 L325.3,243.1 L326.0,240.2 L327.8,238.3 L329.7,236.5 L332.2,235.2 L333.6,233.0 L335.0,230.7 L337.2,229.2 L338.4,226.8 L340.4,225.1 L342.2,223.3 L343.8,221.2 L345.2,218.9 L346.9,217.0 L349.7,216.0 L349.8,212.6 L352.6,211.6 L353.7,209.1 L355.2,207.0 L356.3,204.5 L358.8,203.2 L360.3,201.1 L362.7,199.6 L363.3,196.8 L364.3,194.3 L365.8,192.2 L368.6,191.0 L369.9,188.7 L370.8,186.2 L373.3,184.7 L373.9,182.0 L374.9,179.5 L376.6,177.5 L377.2,174.8 L379.3,173.0 L380.3,170.5 L382.9,169.2 L384.6,167.3 L385.9,165.0 L388.1,163.4 L388.9,160.7 L391.1,159.2 L392.4,156.8 L393.5,154.4 L396.3,153.3 L398.9,152.0 L401.2,150.6 L401.1,147.1 L402.9,145.2 L405.1,143.6 L405.2,140.4 L408.0,139.3 L407.8,135.8 L409.5,133.9 L411.7,132.3 L413.4,130.2 L415.6,128.6 L416.0,125.7 L417.9,123.9 L419.4,121.7 L421.2,119.8 L423.1,118.0 L424.7,115.9 L425.9,113.5 L427.3,111.4 L428.4,109.0 L428.8,106.1 L430.2,103.9 L432.9,102.6 L433.5,99.8 L435.3,97.9 L437.5,96.2 L438.6,93.9 L439.8,91.5 L441.2,89.3 L443.4,87.7 L445.7,86.1 L445.3,82.7 L447.6,81.1 L450.0,79.5 L451.0,77.1 L452.0,74.6 L453.8,72.7 L455.7,70.8 L457.4,68.8 L457.3,65.6 L459.1,63.7 L461.4,62.1 L463.1,60.1 L464.5,57.9 L466.1,55.9 L467.9,54.0 L469.4,51.8 L472.0,50.5 L471.6,47.0 L473.0,44.8 L474.1,42.3 L476.9,41.1 L478.3,39.0 L479.6,36.6 L480.7,34.2 L484.1,33.5 L484.9,30.9 L486.5,28.8 L486.8,25.8 L489.2,24.4 L491.1,22.5 L493.1,20.7 L494.1,18.2 L495.6,16.1 L496.5,13.5 L498.3,11.6 L500.0,9.6 L501.5,7.5" fill="none" stroke="#0072B2" stroke-width="2.6" stroke-linejoin="round" stroke-linecap="butt"/><rect x="81.7" y="1.1" width="436.8" height="335.4" fill="none" stroke="#4a4a4a" stroke-width="1.5"/><g font-family="'Liberation Serif', serif" font-size="21.5" fill="#111"><text transform="translate(70.3,344.0) scale(0.985,1.07)" text-anchor="end">0</text><text transform="translate(70.3,303.1) scale(0.985,1.07)" text-anchor="end">5</text><text transform="translate(70.3,262.2) scale(0.985,1.07)" text-anchor="end">10</text><text transform="translate(70.3,221.3) scale(0.985,1.07)" text-anchor="end">15</text><text transform="translate(70.3,180.4) scale(0.985,1.07)" text-anchor="end">20</text><text transform="translate(70.3,139.5) scale(0.985,1.07)" text-anchor="end">25</text><text transform="translate(70.3,98.6) scale(0.985,1.07)" text-anchor="end">30</text><text transform="translate(70.3,57.7) scale(0.985,1.07)" text-anchor="end">35</text><text transform="translate(70.3,16.8) scale(0.985,1.07)" text-anchor="end">40</text><text transform="translate(84.2,364.3) scale(0.985,1.07)" text-anchor="middle">200</text><text transform="translate(189.2,364.3) scale(0.985,1.07)" text-anchor="middle">250</text><text transform="translate(294.2,364.3) scale(0.985,1.07)" text-anchor="middle">300</text><text transform="translate(399.2,364.3) scale(0.985,1.07)" text-anchor="middle">350</text><text transform="translate(504.2,364.3) scale(0.985,1.07)" text-anchor="middle">400</text></g><text font-family="'Liberation Serif', serif" font-size="20.5" fill="#111" x="300" y="394.7" text-anchor="middle">Temperature (K)</text><text font-family="'Liberation Serif', serif" font-size="21.3" fill="#111" transform="translate(21.6,168.3) rotate(-90)" text-anchor="middle">1/χ (mol/cm<tspan font-size="14.5" dy="-10">3</tspan><tspan dy="10">)</tspan></text><text font-family="'Liberation Serif', serif" font-size="21" fill="#111" x="170.3" y="47.2" text-anchor="end">SC1100</text><path d="M182,40.6H200.7" stroke="#9400D3" stroke-width="2.7"/><text font-family="'Liberation Serif', serif" font-size="21" fill="#111" x="170.3" y="92.2" text-anchor="end">AQ700</text><path d="M182,85.6H200.7" stroke="#009E73" stroke-width="2.7"/><text font-family="'Liberation Serif', serif" font-size="21" fill="#111" x="170.3" y="137.2" text-anchor="end">AQ800</text><path d="M182,130.6H200.7" stroke="#56B4E9" stroke-width="2.7"/><text font-family="'Liberation Serif', serif" font-size="21" fill="#111" x="170.3" y="182.2" text-anchor="end">AQ900</text><path d="M182,175.6H200.7" stroke="#E69F00" stroke-width="2.7"/><text font-family="'Liberation Serif', serif" font-size="21" fill="#111" x="170.3" y="227.2" text-anchor="end">AQ1000</text><path d="M182,220.6H200.7" stroke="#AC1A2C" stroke-width="2.7"/><text font-family="'Liberation Serif', serif" font-size="21" fill="#111" x="170.3" y="272.2" text-anchor="end">AQ1150</text><path d="M182,265.6H200.7" stroke="#0072B2" stroke-width="2.7"/><path d="M396.5,131.7L481.2,17.2 M396.5,131.7l7.7,-4.7 M396.5,131.7l2.3,-8.7 M481.2,17.2l-7.7,4.7 M481.2,17.2l-2.3,8.7 M386.7,127L402.5,139 M472.2,8.3L488.7,21 M418.0,311.0L502.1,222.3 M418.0,311.0l8.2,-3.7 M418.0,311.0l3.3,-8.4 M502.1,222.3l-8.2,3.7 M502.1,222.3l-3.3,8.4 M407.5,305.6L420.6,318 M498.7,210L514.5,224.4" stroke="#111" stroke-width="1.2" fill="none"/><text font-family="'Liberation Serif', serif" font-size="20.5" fill="#111" stroke="#111" stroke-width="0.3" transform="translate(391,128.8) rotate(-53.5) scale(1,1.08)">Ni<tspan font-size="15" dy="5.5">2</tspan><tspan dy="-5.5">In-type PM.</tspan></text><text font-family="'Liberation Serif', serif" font-size="20.5" fill="#111" stroke="#111" stroke-width="0.3" transform="translate(413,307.5) rotate(-47) scale(1,1.08)">TiNiSi-type PM.</text></svg>
</body></html>
